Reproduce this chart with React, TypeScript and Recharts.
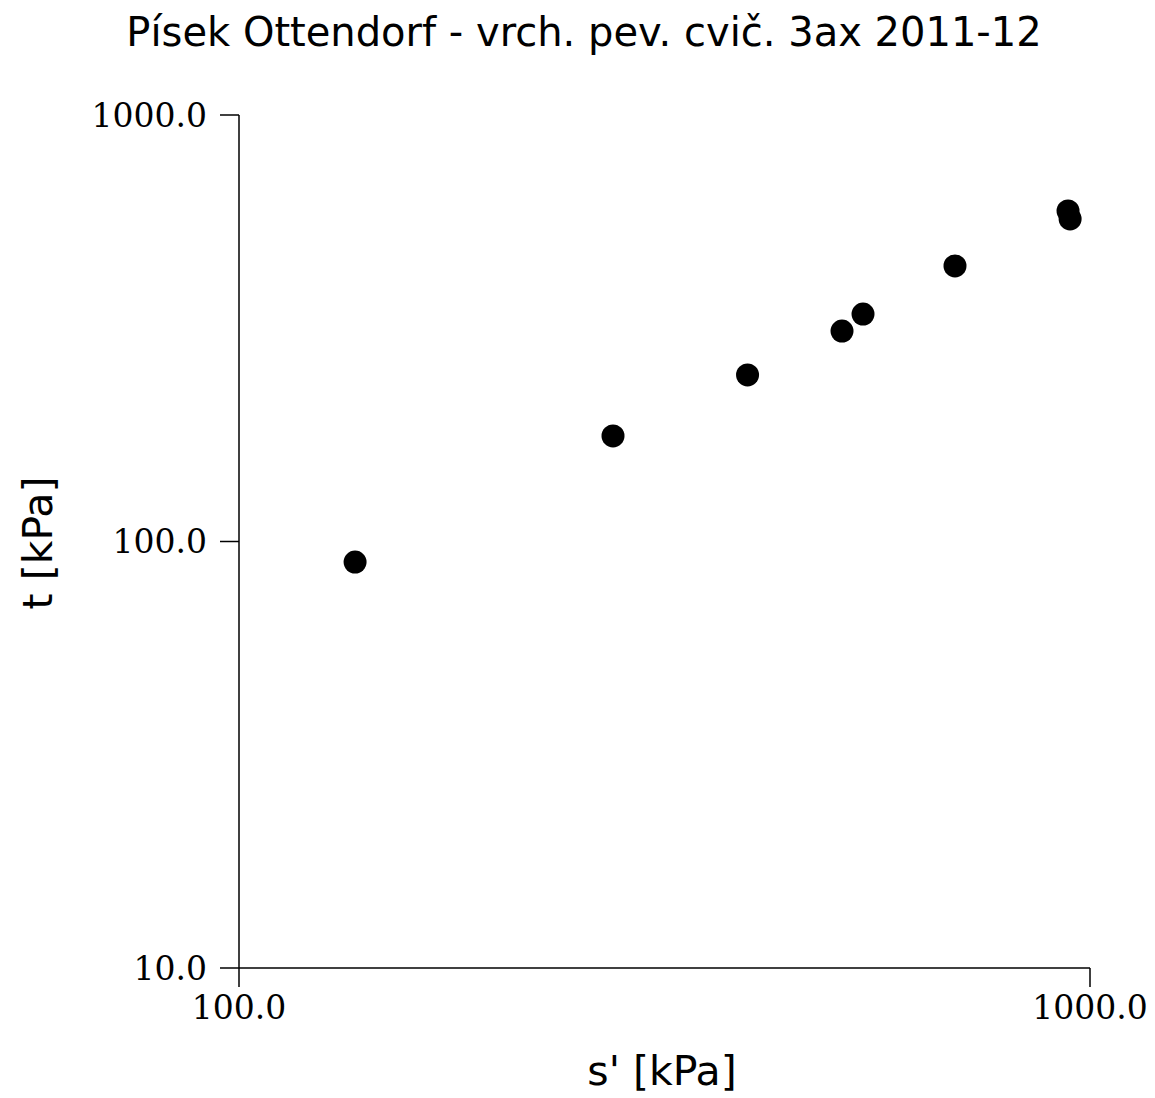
import React from 'react';
import { Scatter, ScatterChart, XAxis, YAxis } from 'recharts';

// effective mean stress s' [kPa] and deviatoric t [kPa] from triaxial tests
const sValues = [136.9, 275.1, 395.9, 511.2, 541.1, 694.0, 942.3, 947.6];
const tValues = [89.5, 176.8, 245.7, 311.5, 341.5, 442.6, 595.6, 570.5];
const xTicks = [100, 1000];
const yTicks = [10, 100, 1000];

const title = 'Písek Ottendorf - vrch. pev. cvič. 3ax 2011-12';
const xLabel = "s' [kPa]";
const yLabel = 't [kPa]';

const points = sValues.map((s, i) => ({ s, t: tValues[i] }));

const W = 1155;
const H = 1098;

const tickStyle = { fill: '#000', fontSize: 33, fontFamily: '"DejaVu Serif", serif' };
const axisStroke = { stroke: '#000', strokeWidth: 1.5 };

export default function App() {
  return (
    <div style={{ position: 'absolute', left: 0, top: 0, width: W, height: H, background: '#fff' }}>
      <ScatterChart width={W} height={H} margin={{ top: 115, right: 65, bottom: 0, left: 0 }}>
        <XAxis
          type="number"
          dataKey="s"
          scale="log"
          domain={[100, 1000]}
          ticks={xTicks}
          allowDataOverflow
          height={130}
          tickSize={19}
          tickMargin={9}
          tick={tickStyle}
          axisLine={axisStroke}
          tickLine={axisStroke}
          tickFormatter={(v: number) => v.toFixed(1)}
          interval={0}
        />
        <YAxis
          type="number"
          dataKey="t"
          scale="log"
          domain={[10, 1000]}
          ticks={yTicks}
          allowDataOverflow
          width={239}
          tickSize={19}
          tickMargin={13}
          tick={tickStyle}
          axisLine={axisStroke}
          tickLine={axisStroke}
          tickFormatter={(v: number) => v.toFixed(1)}
          interval={0}
        />
        <Scatter
          data={points}
          fill="#000"
          isAnimationActive={false}
          shape={(p: any) => <circle cx={p.cx} cy={p.cy} r={11.5} fill="#000" />}
        />
      </ScatterChart>
      <svg
        width={W}
        height={H}
        style={{ position: 'absolute', left: 0, top: 0, pointerEvents: 'none' }}
        fontFamily='"DejaVu Sans", sans-serif'
        fontSize={40}
      >
        <text x={584} y={46} textAnchor="middle" fill="#000">
          {title}
        </text>
        <text x={662} y={1085} textAnchor="middle" fill="#000" fontSize={41}>
          {xLabel}
        </text>
        <text transform="translate(52,543) rotate(-90)" textAnchor="middle" fill="#000" fontSize={41}>
          {yLabel}
        </text>
      </svg>
    </div>
  );
}
